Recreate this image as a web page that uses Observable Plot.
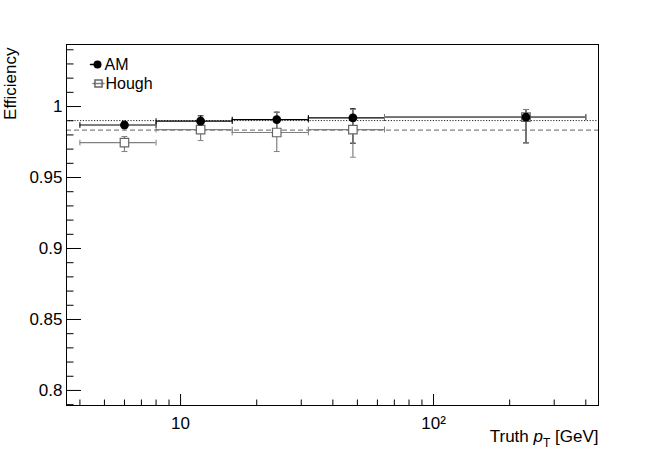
<!DOCTYPE html>
<html><head><meta charset="utf-8">
<script src="https://cdn.jsdelivr.net/npm/d3@7"></script>
<script src="https://cdn.jsdelivr.net/npm/@observablehq/plot@0.6"></script>
<style>body{margin:0;background:#fff}</style>
</head><body><div id="chart"></div>
<script>
// ---- data ----
const binLow = [4, 8, 16, 32, 64];
const binHigh = [8, 16, 32, 64, 400];
const binCenter = [6, 12, 24, 48, 232];
const amEff = [0.9870, 0.9897, 0.9908, 0.9920, 0.9925];
const amErrLow = [0.0022, 0.0045, 0.0100, 0.0178, 0.0181];
const amErrHigh = [0.0022, 0.0037, 0.0052, 0.0064, 0.0054];
const houghEff = [0.9746, 0.9838, 0.9817, 0.9838, 0.9925];
const houghErrLow = [0.0063, 0.0078, 0.0134, 0.0195, 0.0181];
const houghErrHigh = [0.0043, 0.0080, 0.0143, 0.0141, 0.0054];
const amAverage = 0.9901;
const houghAverage = 0.9834;
const seriesNames = ["AM", "Hough"];
const xMajorTicks = [10, 100];
const xMajorLabels = ["10", "10²"];
const xMinorTicks = [4, 5, 6, 7, 8, 9, 20, 30, 40, 50, 60, 70, 80, 90, 200, 300, 400];
const yMajorTicks = [0.8, 0.85, 0.9, 0.95, 1];
const yMajorLabels = ["0.8", "0.85", "0.9", "0.95", "1"];
const yMinorTicks = [0.79, 0.81, 0.82, 0.83, 0.84, 0.86, 0.87, 0.88, 0.89, 0.91, 0.92, 0.93, 0.94, 0.96, 0.97, 0.98, 0.99, 1.01, 1.02, 1.03, 1.04];
const xTitle = "Truth p_T [GeV]";
const yTitle = "Efficiency";

const amData = binCenter.map((c, i) => ({lo: binLow[i], hi: binHigh[i], x: c, y: amEff[i], y1: amEff[i] - amErrLow[i], y2: amEff[i] + amErrHigh[i]}));
const houghData = binCenter.map((c, i) => ({lo: binLow[i], hi: binHigh[i], x: c, y: houghEff[i], y1: houghEff[i] - houghErrLow[i], y2: houghEff[i] + houghErrHigh[i]}));

const vline = {draw(ctx, l) { ctx.moveTo(0, -l / 2); ctx.lineTo(0, l / 2); }};
const hline = {draw(ctx, l) { ctx.moveTo(-l / 2, 0); ctx.lineTo(l / 2, 0); }};

const AMC = "black", HC = "#808080";

function errorMarks(data, color) {
  return [
    Plot.ruleY(data, {x1: "lo", x2: "hi", y: "y", stroke: color, strokeWidth: 1.2}),
    Plot.ruleX(data, {x: "x", y1: "y1", y2: "y2", stroke: color, strokeWidth: 1.2}),
    Plot.vector(data, {x: "lo", y: "y", length: 5, shape: vline, anchor: "start", stroke: color, strokeWidth: 1}),
    Plot.vector(data, {x: "hi", y: "y", length: 5, shape: vline, anchor: "start", stroke: color, strokeWidth: 1}),
    Plot.vector(data, {x: "x", y: "y1", length: 5, shape: hline, anchor: "start", stroke: color, strokeWidth: 1}),
    Plot.vector(data, {x: "x", y: "y2", length: 5, shape: hline, anchor: "start", stroke: color, strokeWidth: 1})
  ];
}

const chart = Plot.plot({
  width: 664, height: 451,
  marginLeft: 66, marginRight: 66, marginTop: 44, marginBottom: 46,
  style: {fontFamily: "'Liberation Sans', Arial, Helvetica, sans-serif", fontSize: "17px", background: "white", color: "black", overflow: "visible"},
  x: {type: "log", domain: [3.54, 449]},
  y: {domain: [0.7894, 1.0437]},
  marks: [
    Plot.ruleY([amAverage], {stroke: "#222", strokeDasharray: "1.2,1.6", strokeWidth: 1}),
    Plot.ruleY([houghAverage], {stroke: "#666", strokeDasharray: "5,3", strokeWidth: 1}),
    ...errorMarks(amData, AMC),
    ...errorMarks(houghData, HC),
    Plot.dot(houghData, {x: "x", y: "y", symbol: "square", r: 4.8, fill: "white", stroke: "#666", strokeWidth: 1.2}),
    Plot.dot(amData, {x: "x", y: "y", r: 4.4, fill: AMC}),
    // axes
    Plot.axisY(yMajorTicks, {tickSize: -15, tickFormat: () => "", label: null}),
    Plot.axisY(yMinorTicks, {tickSize: -7.5, tickFormat: () => "", label: null}),
    Plot.axisY(yMajorTicks, {tickSize: 0, tickPadding: 4, tickFormat: d => yMajorLabels[yMajorTicks.indexOf(d)], label: null, fontSize: 17}),
    Plot.axisX(xMajorTicks, {tickSize: -11, tickFormat: () => "", label: null}),
    Plot.axisX(xMinorTicks, {tickSize: -5.5, tickFormat: () => "", label: null}),
    Plot.axisX(xMajorTicks, {tickSize: 0, tickPadding: 11, tickFormat: d => xMajorLabels[xMajorTicks.indexOf(d)], label: null, fontSize: 17}),
    Plot.frame({stroke: "black", strokeWidth: 1}),
    // titles
    Plot.text([xTitle], {frameAnchor: "bottom-right", textAnchor: "end", lineAnchor: "middle", dy: 31, fontSize: 17}),
    Plot.text([yTitle], {frameAnchor: "top-left", rotate: -90, textAnchor: "end", lineAnchor: "middle", dx: -56, dy: 3, fontSize: 17}),
    // legend
    Plot.vector([0], {frameAnchor: "top-left", dx: 28, dy: 20, length: 8, shape: hline, anchor: "start", stroke: AMC}),
    Plot.dot([0], {frameAnchor: "top-left", dx: 31, dy: 20, r: 4, fill: AMC}),
    Plot.text([seriesNames[0]], {frameAnchor: "top-left", textAnchor: "start", lineAnchor: "middle", dx: 38, dy: 20, fontSize: 16}),
    Plot.vector([0], {frameAnchor: "top-left", dx: 32, dy: 39, length: 11, shape: hline, anchor: "start", stroke: HC}),
    Plot.dot([0], {frameAnchor: "top-left", dx: 32, dy: 39, symbol: "square", r: 4, fill: "none", stroke: "#666"}),
    Plot.text([seriesNames[1]], {frameAnchor: "top-left", textAnchor: "start", lineAnchor: "middle", dx: 39, dy: 39, fontSize: 16})
  ]
});

d3.select(chart).selectAll("text").filter(function () { return this.textContent === xTitle; }).each(function () {
  const t = d3.select(this);
  t.text(null);
  t.append("tspan").text("Truth ");
  t.append("tspan").attr("font-style", "italic").text("p");
  t.append("tspan").attr("font-size", "12px").attr("dy", "5").text("T");
  t.append("tspan").attr("dy", "-5").text(" [GeV]");
});

document.getElementById("chart").appendChild(chart);
</script>
</body></html>
